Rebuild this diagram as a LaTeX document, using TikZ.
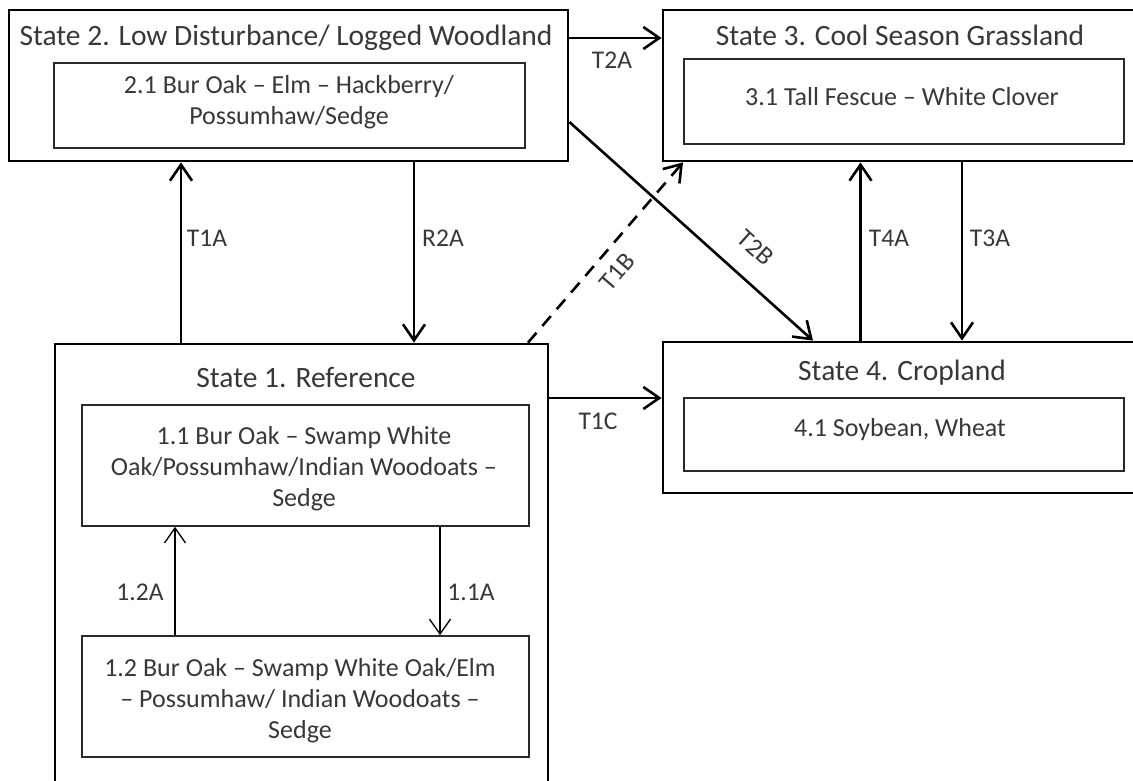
\documentclass[tikz,border=0pt]{standalone}
\usepackage{fontspec}
\setmainfont{Carlito}
\usetikzlibrary{arrows.meta}
\definecolor{txt}{HTML}{383838}
\definecolor{inl}{HTML}{2A2A2A}
\begin{document}
\begin{tikzpicture}[x=1pt,y=-1pt,
  outer/.style={draw=black, line width=2.8pt, inner sep=0pt},
  inbox/.style={draw=inl, line width=1.6pt, inner sep=0pt},
  title/.style={font=\fontsize{29.5}{34}\selectfont, text=txt, inner sep=0pt},
  intext/.style={font=\fontsize{26}{31}\selectfont, text=txt, align=center, inner sep=0pt},
  lbl/.style={font=\fontsize{25.5}{30}\selectfont, text=txt, inner sep=1pt},
  trans/.style={line width=2.6pt, -{Straight Barb[length=16pt,width=22pt,line width=2.6pt]}},
  transd/.style={trans, dash pattern=on 13pt off 9pt},
  sub/.style={line width=1.3pt, -{Straight Barb[length=15pt,width=21pt,line width=1.3pt]}}]
\fill[white] (0,0) rectangle (1133,780);
\clip (0,0) rectangle (1133,780);
% outer state boxes
\node[outer, minimum width=559pt, minimum height=151pt] (s2) at (288.5,85.5) {};
\node[outer, minimum width=482pt, minimum height=151pt] (s3) at (904,85.5) {};
\node[outer, minimum width=493pt, minimum height=456pt] (s1) at (301.5,572) {};
\node[outer, minimum width=482pt, minimum height=151pt] (s4) at (904,417.5) {};
% titles
\node[title] (t2) at (286,38) {State 2. Low Disturbance/ Logged Woodland};
\node[title] (t3) at (900,35) {State 3. Cool Season Grassland};
\node[title] (t1) at (306,377) {State 1. Reference};
\node[title] (t4) at (902,373) {State 4. Cropland};
% inner boxes
\node[inbox, minimum width=471pt, minimum height=85pt] (i21) at (289.5,105.5) {};
\node[inbox, minimum width=440pt, minimum height=85pt] (i31) at (904,101.5) {};
\node[inbox, minimum width=440pt, minimum height=73pt] (i41) at (904,434.5) {};
\node[inbox, minimum width=447pt, minimum height=121pt] (i11) at (305.5,465.5) {};
\node[inbox, minimum width=447pt, minimum height=121pt] (i12) at (305.5,696.5) {};
% inner texts
\node[intext] (x21) at (289,102) {2.1 Bur Oak – Elm – Hackberry/\\Possumhaw/Sedge};
\node[intext] (x31) at (902,97) {3.1 Tall Fescue – White Clover};
\node[intext] (x41) at (900,430) {4.1 Soybean, Wheat};
\node[intext] (x11) at (304,468.5) {1.1 Bur Oak – Swamp White\\Oak/Possumhaw/Indian Woodoats –\\Sedge};
\node[intext] (x12) at (300,701) {1.2 Bur Oak – Swamp White Oak/Elm\\– Possumhaw/ Indian Woodoats –\\Sedge};
% transitions
\draw[trans] ([yshift=47.5pt]s2.east) -- ([yshift=47.5pt]s3.west);
\draw[trans] ([yshift=-36.5pt]s2.east) -- ([xshift=-91pt]s4.north)
  node[lbl, sloped, above=20pt, pos=0.68] (l2b) {T2B};
\draw[trans] ([xshift=-120.5pt]s1.north) -- ([xshift=-107.5pt]s2.south);
\draw[trans] ([xshift=125.5pt]s2.south) -- ([xshift=112.5pt]s1.north);
\draw[transd] ([xshift=226.5pt]s1.north) -- ([xshift=-221pt]s3.south)
  node[lbl, sloped, below=11pt, pos=0.47] (l1b) {T1B};
\draw[trans] ([yshift=174pt]s1.east) -- ([yshift=19.5pt]s4.west);
\draw[trans] ([xshift=-43.5pt]s4.north) -- ([xshift=-43.5pt]s3.south);
\draw[trans] ([xshift=58pt]s3.south) -- ([xshift=58pt]s4.north);
\draw[sub] ([xshift=-130.5pt]i12.north) -- ([xshift=-130.5pt]i11.south);
\draw[sub] ([xshift=134.5pt]i11.south) -- ([xshift=134.5pt]i12.north);
% labels
\node[lbl] (l2a) at (612,60) {T2A};
\node[lbl] (l1a) at (207,238) {T1A};
\node[lbl] (lr2a) at (443,238) {R2A};
\node[lbl] (l4a) at (889,238) {T4A};
\node[lbl] (l3a) at (990,238) {T3A};
\node[lbl] (l1c) at (598,421) {T1C};
\node[lbl] (l12a) at (140,592) {1.2A};
\node[lbl] (l11a) at (471,592) {1.1A};
\end{tikzpicture}
\end{document}
